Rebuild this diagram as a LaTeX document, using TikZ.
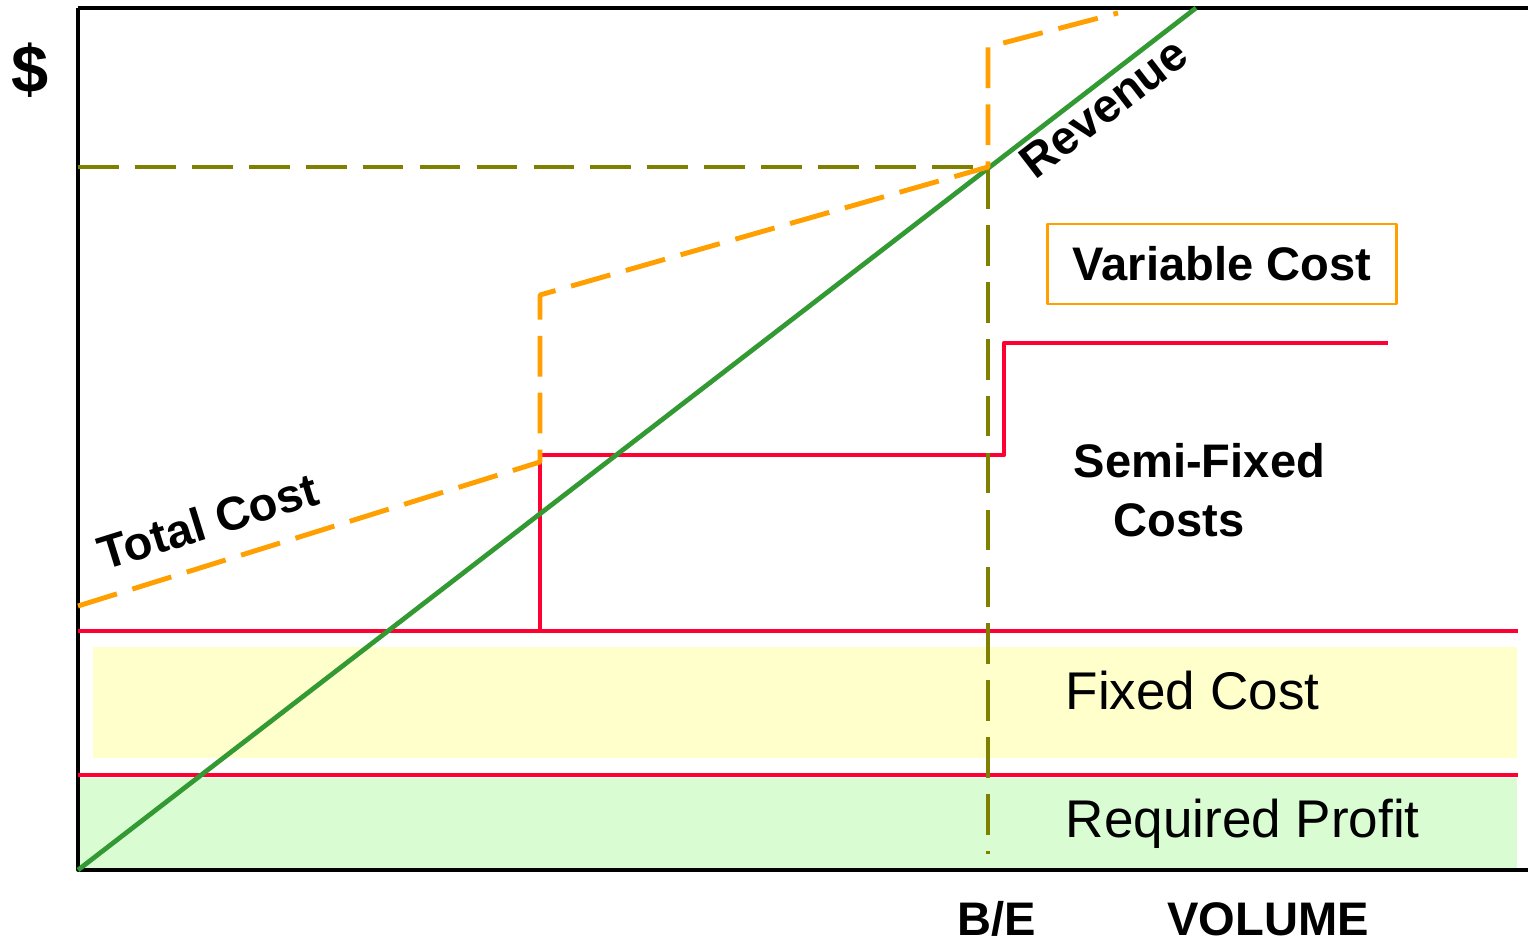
\documentclass[tikz,border=0pt]{standalone}
\usepackage{fontspec}
\setmainfont{Liberation Sans}
\definecolor{revgreen}{HTML}{339933}
\definecolor{costred}{HTML}{FF0033}
\definecolor{totorange}{HTML}{FFA000}
\definecolor{beolive}{HTML}{808000}
\definecolor{fixyellow}{HTML}{FFFFCC}
\definecolor{profgreen}{HTML}{DAFCD3}
\begin{document}
\begin{tikzpicture}[line join=round, >=stealth, font=\bfseries\fontsize{13.4}{16.8}\selectfont]
	\tikzset{every node/.style={inner sep=0pt},
		axis/.style={line width=0.9pt},
		revline/.style={draw=revgreen, line width=1.35pt},
		costline/.style={draw=costred, line width=1.35pt},
		dashline/.style={line width=1.4pt, dash pattern=on 11.6pt off 4.6pt},
		plain/.style={font=\mdseries\fontsize{15.1}{18}\selectfont}}
	\def\xmax{14.5}\def\ymax{8.62}\def\xbe{9.10}\def\xsf{4.62}
	\useasboundingbox (-0.78,-0.71) rectangle (\xmax,8.70);
	%bands
	\fill[profgreen] (0,0.02) rectangle (14.39,0.92);
	\fill[fixyellow] (0.15,1.12) rectangle (14.39,2.23);
	%axes
	\draw[axis] (0,\ymax)--(0,0)--(\xmax,0);
	\draw[axis] (0,\ymax)--(\xmax,\ymax);
	%fixed and semi-fixed costs
	\draw[costline] (0,0.95)--(14.40,0.95);
	\draw[costline] (0,2.39)--(14.40,2.39);
	\draw[costline] (\xsf,2.39) |- (9.26,4.15) |- (13.10,5.27);
	%revenue
	\draw[revline] (0,0)--(11.18,\ymax);
	%break-even
	\draw[dashline, beolive] (0,7.03)--(\xbe,7.03)--(\xbe,0.16);
	%total cost
	\draw[dashline, totorange] (0,2.64)--(\xsf,4.08)--(\xsf,5.75)--(\xbe,7.03)--(\xbe,8.23)--(10.40,8.57);
	%labels
	\node[font=\bfseries\fontsize{19}{21}\selectfont] (dollar) at (-0.48,8.00) {\$};
	\node[rotate=37.6] (revlab) at (10.26,7.62) {Revenue};
	\node[rotate=17.3] (totlab) at (1.30,3.49) {Total Cost};
	\node[draw=totorange, line width=0.6pt, minimum width=3.49cm, minimum height=0.80cm] (varbox) at (11.44,6.06) {Variable Cost};
	\node[align=left, anchor=north west] (semilab) at (9.95,4.27) {Semi-Fixed\\\hspace*{0.4cm}Costs};
	\node[plain, anchor=base west] (fixlab) at (9.87,1.61) {Fixed Cost};
	\node[plain, anchor=base west] (proflab) at (9.87,0.33) {Required Profit};
	\node[anchor=base] (belab) at (9.19,-0.65) {B/E};
	\node[anchor=base] (vollab) at (11.90,-0.65) {VOLUME};
\end{tikzpicture}
\end{document}
